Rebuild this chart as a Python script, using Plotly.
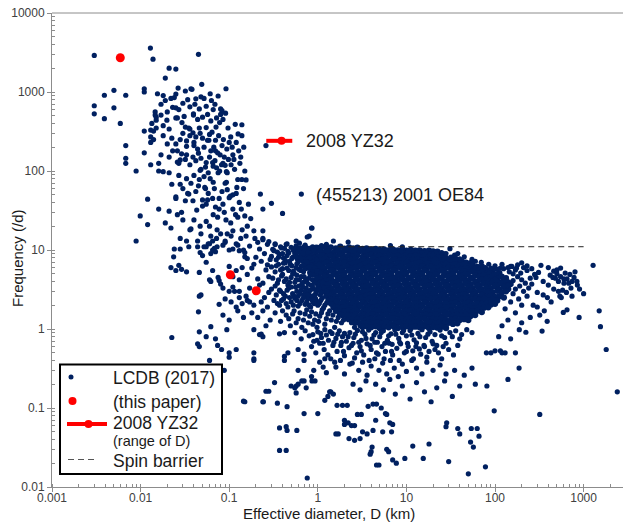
import math
import plotly.graph_objects as go

# ---------------------------------------------------------------------------
# LCDB (2017) asteroids: (effective diameter D [km], rotation frequency [1/d])
# ---------------------------------------------------------------------------

# Small, fast-rotating objects (mostly D < 0.2 km, above the spin barrier)
lcdb_fast_small = [
    (0.0030, 2900), (0.0030, 670), (0.0030, 530), (0.0039, 910), (0.0039, 460),
    (0.005, 1050), (0.005, 630), (0.0059, 400), (0.0068, 910), (0.0068, 210),
    (0.0068, 145), (0.0068, 125), (0.0089, 100), (0.011, 320), (0.011, 170),
    (0.011, 1100), (0.011, 1000), (0.012, 44), (0.0099, 27), (0.012, 21),
    (0.0089, 13), (0.0129, 3600), (0.0138, 2600), (0.021, 2000), (0.025, 1950),
    (0.019, 1500), (0.045, 3000), (0.049, 1250), (0.092, 1100),
    (0.0155, 950), (0.018, 900), (0.022, 830), (0.025, 940), (0.0265, 1120),
    (0.032, 1030), (0.037, 1100), (0.038, 1080), (0.042, 820), (0.046, 610),
    (0.052, 830), (0.061, 950), (0.063, 780), (0.075, 890), (0.019, 780),
    (0.023, 640), (0.025, 630), (0.030, 720), (0.0395, 530), (0.0395, 510),
    (0.055, 660), (0.08, 610), (0.083, 580), (0.08, 520), (0.091, 540),
    (0.0146, 510), (0.015, 480), (0.015, 440), (0.0134, 400), (0.0198, 440),
    (0.025, 470), (0.026, 470), (0.0293, 410), (0.018, 375), (0.021, 340),
    (0.032, 360), (0.036, 340), (0.035, 350), (0.046, 350), (0.055, 355),
    (0.071, 360), (0.097, 350), (0.117, 390), (0.139, 385), (0.126, 295),
    (0.139, 280), (0.047, 300), (0.039, 305), (0.013, 330), (0.014, 320),
    (0.015, 350), (0.0146, 560), (0.017, 510),
    (0.013, 270), (0.014, 250), (0.013, 230), (0.0225, 260), (0.025, 220),
    (0.033, 240), (0.04, 230), (0.04, 210), (0.033, 205), (0.026, 180),
    (0.029, 165), (0.033, 160), (0.039, 150), (0.045, 168), (0.057, 245),
    (0.059, 245), (0.07, 245), (0.067, 200), (0.083, 210), (0.07, 180),
    (0.074, 170), (0.1, 230), (0.11, 160), (0.088, 150), (0.026, 130),
    (0.028, 138), (0.027, 125), (0.013, 120), (0.016, 125), (0.018, 98),
    (0.021, 150), (0.016, 100), (0.055, 128), (0.065, 128), (0.066, 115),
    (0.082, 120), (0.085, 125), (0.09, 118), (0.105, 120), (0.048, 105),
    (0.047, 102), (0.058, 95), (0.075, 95), (0.095, 95), (0.093, 98),
    (0.021, 95), (0.0225, 68), (0.028, 68), (0.045, 65), (0.053, 62),
    (0.054, 60), (0.066, 72), (0.09, 70), (0.093, 72), (0.125, 78),
    (0.139, 78), (0.103, 48), (0.083, 55), (0.025, 47), (0.025, 45),
    (0.032, 42), (0.039, 42), (0.05, 43), (0.057, 43), (0.065, 45),
    (0.077, 45), (0.1, 46), (0.11, 50), (0.034, 52), (0.035, 51),
    (0.016, 33), (0.021, 31), (0.029, 30), (0.043, 32), (0.05, 36),
    (0.055, 38), (0.066, 28), (0.077, 33), (0.088, 30), (0.11, 33),
    (0.125, 26), (0.15, 27), (0.019, 22), (0.022, 19), (0.03, 24),
    (0.036, 18), (0.037, 18.5), (0.047, 20), (0.055, 23), (0.06, 20),
    (0.073, 18), (0.11, 17.5), (0.14, 18),
    (0.024, 10.3), (0.028, 10.3), (0.035, 11), (0.044, 13), (0.052, 11),
    (0.065, 13), (0.073, 11), (0.09, 13), (0.1, 10), (0.12, 12), (0.145, 10),
    (0.017, 700), (0.02, 560), (0.024, 850), (0.027, 600), (0.031, 490),
    (0.034, 800), (0.036, 650), (0.041, 700), (0.044, 450), (0.048, 870),
    (0.05, 480), (0.057, 520), (0.062, 430), (0.066, 600), (0.069, 700),
    (0.072, 470), (0.078, 410), (0.085, 450), (0.05, 260), (0.052, 200),
    (0.06, 290), (0.062, 180), (0.064, 310), (0.076, 280), (0.079, 160),
    (0.086, 250), (0.094, 190), (0.104, 270), (0.108, 200), (0.113, 140),
    (0.12, 230), (0.128, 180), (0.135, 150), (0.146, 200), (0.042, 270),
    (0.044, 190), (0.036, 280), (0.03, 300), (0.028, 250), (0.018, 280),
    (0.02, 220), (0.023, 180), (0.017, 160), (0.032, 140), (0.036, 120),
    (0.042, 135), (0.048, 145), (0.054, 112), (0.06, 150), (0.069, 135),
    (0.072, 110), (0.078, 100), (0.098, 140), (0.115, 105), (0.132, 125),
    (0.15, 100), (0.155, 77), (0.145, 60), (0.122, 62), (0.13, 40),
    (0.12, 52), (0.095, 58), (0.085, 38), (0.07, 35), (0.068, 60),
    (0.061, 80), (0.052, 85), (0.046, 78), (0.04, 88), (0.037, 70),
    (0.033, 80), (0.03, 60), (0.027, 88), (0.042, 55), (0.058, 52),
    (0.074, 26), (0.092, 24), (0.104, 22), (0.118, 28), (0.137, 33),
    (0.16, 20), (0.165, 38), (0.175, 25), (0.135, 14), (0.155, 15),
    (0.105, 15), (0.08, 16), (0.062, 15), (0.048, 16), (0.04, 24),
    (0.026, 28), (0.028, 14), (0.033, 13), (0.044, 11), (0.058, 12),
    (0.068, 10.5), (0.085, 11.5), (0.095, 16), (0.072, 14),
    (0.225, 51), (0.24, 33), (0.3, 39), (0.4, 29), (0.652, 51), (0.85, 19),
    (0.19, 17.5), (0.24, 17.5), (0.195, 14), (0.24, 14), (0.33, 12),
    (0.45, 12), (0.57, 13), (0.26, 210), (0.86, 19),
]

# Sub-km objects below the spin barrier
lcdb_small = [
    (0.31, 10.2), (0.35, 9.4), (0.38, 11.0), (0.42, 10.5), (0.46, 9.6),
    (0.5, 10.8), (0.53, 9.9), (0.57, 11.3), (0.6, 10.1), (0.64, 9.3),
    (0.68, 10.6), (0.72, 11.5), (0.75, 9.8), (0.79, 10.4), (0.83, 9.2),
    (0.87, 11.0), (0.9, 10.0), (0.44, 11.8), (0.62, 12.2), (0.76, 14.6),
    (0.33, 11.7), (0.96, 10.9), (1.1, 11.4), (1.25, 11.8), (0.55, 9.1),
    (0.7, 9.5),
    (0.3, 8.3), (0.34, 7.5), (0.37, 8.8), (0.41, 7.9), (0.45, 8.5),
    (0.48, 7.2), (0.52, 8.1), (0.56, 8.8), (0.59, 7.6), (0.63, 8.4),
    (0.67, 7.3), (0.71, 8.0), (0.74, 8.9), (0.78, 7.7), (0.82, 8.4),
    (0.86, 7.4), (0.92, 8.1), (0.97, 7.6), (0.4, 9.0),
    (0.3, 6.1), (0.33, 5.3), (0.36, 6.6), (0.4, 5.8), (0.43, 6.9),
    (0.47, 5.5), (0.51, 6.3), (0.54, 5.1), (0.58, 6.7), (0.61, 5.7),
    (0.65, 6.2), (0.69, 5.3), (0.73, 6.5), (0.77, 5.9), (0.81, 5.2),
    (0.85, 6.4), (0.88, 5.6), (0.93, 6.0), (0.98, 5.4), (1.03, 6.6),
    (1.08, 5.1),
    (0.31, 4.4), (0.35, 3.8), (0.39, 4.7), (0.42, 4.0), (0.46, 3.6),
    (0.5, 4.5), (0.55, 3.9), (0.58, 4.8), (0.62, 4.2), (0.66, 3.7),
    (0.7, 4.6), (0.75, 4.0), (0.8, 4.4), (0.84, 3.6), (0.89, 4.8),
    (0.94, 4.1), (0.99, 3.7), (1.05, 4.5), (1.13, 3.9), (1.2, 4.7),
    (0.3, 3.2), (0.34, 2.7), (0.38, 3.0), (0.43, 2.6), (0.47, 3.3),
    (0.52, 2.8), (0.56, 3.4), (0.6, 2.6), (0.65, 3.1), (0.7, 2.7),
    (0.74, 3.3), (0.79, 2.9), (0.84, 2.6), (0.9, 3.2), (0.95, 2.8),
    (1.0, 3.4), (1.07, 2.7), (1.15, 3.1), (1.23, 2.6), (1.35, 2.8),
    (1.45, 3.3),
    (0.32, 2.3), (0.37, 2.0), (0.41, 2.4), (0.46, 1.9), (0.5, 2.2),
    (0.55, 2.45), (0.6, 1.95), (0.66, 2.3), (0.72, 2.05), (0.77, 2.4),
    (0.83, 1.9), (0.88, 2.2), (0.94, 2.45), (1.0, 2.0), (1.08, 2.3),
    (1.16, 1.85), (1.26, 2.15), (1.38, 2.4), (1.5, 1.95), (1.62, 2.25),
    (0.33, 1.6), (0.38, 1.25), (0.44, 1.5), (0.49, 1.1), (0.54, 1.7),
    (0.6, 1.35), (0.66, 1.05), (0.72, 1.55), (0.78, 1.2), (0.85, 1.65),
    (0.92, 1.3), (0.98, 1.05), (1.05, 1.45), (1.12, 1.75), (1.2, 1.15),
    (1.3, 1.55), (1.42, 1.3), (1.55, 1.05), (1.7, 1.4), (1.85, 1.2),
    (2.1, 1.35), (2.4, 1.2), (2.6, 1.05), (3.0, 1.1), (1.8, 1.55),
    (0.32, 9.8), (0.36, 8.1), (0.39, 10.6), (0.43, 7.4), (0.47, 9.2),
    (0.51, 7.8), (0.54, 10.4), (0.58, 8.2), (0.61, 9.6), (0.65, 7.9),
    (0.69, 9.0), (0.73, 7.1), (0.77, 9.4), (0.81, 8.0), (0.34, 6.3),
    (0.38, 5.6), (0.41, 6.8), (0.45, 5.9), (0.49, 6.6), (0.53, 5.4),
    (0.57, 6.0), (0.6, 7.0), (0.64, 5.5), (0.68, 6.4), (0.72, 5.8),
    (0.76, 7.0), (0.8, 6.1), (0.36, 4.2), (0.4, 4.9), (0.44, 4.3),
    (0.48, 3.9), (0.52, 5.0), (0.57, 4.2), (0.61, 3.5), (0.65, 4.6),
    (0.69, 3.9), (0.73, 4.3), (0.78, 3.7), (0.82, 4.9), (0.87, 4.2),
    (0.92, 3.9), (0.97, 4.4), (0.33, 3.5), (0.37, 3.1), (0.41, 2.8),
    (0.45, 3.1), (0.5, 3.4), (0.54, 2.6), (0.58, 3.0), (0.63, 2.8),
    (0.68, 3.4), (0.72, 3.0), (0.77, 2.7), (0.82, 3.1), (0.87, 3.5),
    (0.92, 2.7), (0.97, 3.0), (1.03, 3.2), (1.1, 2.9), (1.18, 3.3),
    (1.26, 3.0), (0.35, 2.1), (0.39, 2.3), (0.44, 2.1), (0.48, 2.5),
    (0.53, 2.0), (0.58, 2.3), (0.63, 2.1), (0.69, 2.5), (0.75, 2.2),
    (0.8, 2.0), (0.86, 2.35), (0.91, 2.1), (0.97, 2.25), (1.04, 2.1),
    (1.12, 2.45), (1.2, 2.0), (1.3, 2.3), (1.42, 2.1), (0.4, 1.7),
    (0.47, 1.35), (0.52, 1.55), (0.57, 1.2), (0.63, 1.6), (0.69, 1.3),
    (0.75, 1.75), (0.81, 1.45), (0.88, 1.15), (0.95, 1.55), (1.02, 1.25),
    (1.1, 1.6), (1.25, 1.35), (1.36, 1.7), (1.48, 1.5), (1.62, 1.25),
    (1.75, 1.55), (1.95, 1.3), (2.2, 1.5),
    (0.15, 9.3), (0.17, 11.2), (0.2, 8.1), (0.22, 10.3), (0.25, 9.0),
    (0.27, 11.8), (0.19, 6.6), (0.23, 7.2), (0.26, 5.6), (0.16, 4.9),
    (0.18, 5.9), (0.21, 4.3), (0.24, 3.8), (0.28, 4.6), (0.17, 3.3),
    (0.2, 2.9), (0.22, 3.6), (0.25, 2.5), (0.28, 2.9), (0.16, 2.3),
    (0.19, 2.0), (0.23, 2.2), (0.27, 1.9), (0.18, 1.6), (0.21, 1.4),
    (0.24, 1.7), (0.29, 1.3), (0.26, 1.1), (0.19, 0.98), (0.23, 0.86),
    (0.28, 12.8), (0.24, 13.5), (0.29, 7.6), (0.27, 6.5), (0.16, 7.8),
    (0.21, 12.5),
    (0.0236, 8.2), (0.022, 6.0), (0.025, 5.5), (0.027, 6.4), (0.029, 5.7),
    (0.033, 5.3), (0.046, 5.2), (0.047, 9.3), (0.05, 8.5), (0.062, 9.0),
    (0.06, 4.2), (0.062, 4.0), (0.077, 4.1), (0.08, 3.7), (0.046, 2.6),
    (0.048, 2.7), (0.045, 1.65), (0.062, 1.07), (0.094, 0.98), (0.046, 0.92),
    (0.077, 2.05), (0.0225, 0.78), (0.044, 0.65), (0.046, 0.6), (0.06, 0.4),
    (0.074, 0.62), (0.1, 0.44), (0.1, 0.5), (0.12, 0.55), (0.1, 3.0),
    (0.11, 3.4), (0.115, 3.0), (0.13, 3.0), (0.12, 1.9), (0.125, 1.7),
    (0.145, 1.4), (0.088, 0.3),
    (0.055, 11), (0.06, 12), (0.065, 10), (0.07, 9.5), (0.09, 12.5),
    (0.11, 10.3), (0.13, 9.8), (0.125, 11.5), (0.15, 8.2), (0.055, 7),
    (0.065, 5.5), (0.075, 4.5), (0.1, 6.2), (0.12, 5.5), (0.14, 6.0),
    (0.11, 4.6), (0.13, 4.2), (0.085, 3.3), (0.09, 2.4), (0.105, 2.2),
    (0.13, 2.5), (0.14, 2.1), (0.155, 2.6), (0.17, 2.2), (0.085, 1.5),
    (0.1, 1.3), (0.07, 0.75), (0.055, 0.8), (0.082, 0.55),
]

# Main population, 1 - 150 km, 1 - 11 /d (densely packed)
lcdb_main = [
    (0.63, 10.5), (0.71, 10.9), (0.8, 10.3), (0.9, 10.6),
    (1.0, 10.6), (1.12, 10.9), (1.27, 10.4), (1.4, 10.8), (1.6, 10.5),
    (1.79, 11.0), (2.0, 10.4), (2.25, 10.8), (2.5, 10.5), (2.8, 10.7),
    (3.2, 10.3), (3.55, 10.5), (4.0, 10.1), (4.5, 10.3), (5.0, 10.0),
    (5.6, 10.2), (6.3, 9.9), (7.1, 10.1), (8.0, 9.9), (9.0, 10.1),
    (10, 9.8), (11.2, 10.0), (12.6, 9.8), (14.1, 9.9), (16, 9.7),
    (18, 9.8), (20, 9.6), (22.4, 9.5),
    (0.67, 9.6), (0.75, 9.3), (0.85, 9.7),
    (0.95, 9.4), (1.06, 9.7), (1.19, 9.3), (1.33, 9.6), (1.5, 9.2),
    (1.68, 9.7), (1.9, 9.4), (2.1, 9.8), (2.37, 9.3), (2.66, 9.5),
    (3.0, 9.7), (3.35, 9.2), (3.75, 9.6), (4.2, 9.4), (4.75, 9.6),
    (5.3, 9.3), (5.95, 9.5), (6.7, 9.2), (7.5, 9.4), (8.4, 9.3),
    (9.5, 9.1), (10.6, 9.3), (11.9, 9.0), (13.3, 9.2), (15, 8.9),
    (16.8, 9.1), (18.9, 8.8), (21.2, 9.0), (23.7, 8.7), (26.6, 8.8),
    (0.71, 8.4), (0.8, 8.6), (0.9, 8.2),
    (1.0, 8.3), (1.12, 8.6), (1.26, 8.2), (1.41, 8.5), (1.6, 8.3),
    (1.8, 8.7), (2.0, 8.2), (2.24, 8.5), (2.5, 8.3), (2.8, 8.6),
    (3.2, 8.2), (3.55, 8.4), (4.0, 8.7), (4.5, 8.3), (5.0, 8.5),
    (5.6, 8.2), (6.3, 8.6), (7.1, 8.3), (8.0, 8.5), (9.0, 8.2),
    (10, 8.6), (11.2, 8.3), (12.6, 8.5), (14.1, 8.2), (16, 8.4),
    (18, 8.1), (20, 8.4), (22.4, 8.0), (25, 8.2), (28, 7.9),
    (32, 8.0), (35.5, 7.8),
    (0.75, 7.5), (0.85, 7.7), (0.95, 7.3),
    (1.06, 7.4), (1.19, 7.7), (1.33, 7.3), (1.5, 7.6), (1.68, 7.4),
    (1.9, 7.7), (2.1, 7.3), (2.37, 7.5), (2.66, 7.7), (3.0, 7.3),
    (3.35, 7.6), (3.75, 7.4), (4.2, 7.7), (4.75, 7.3), (5.3, 7.5),
    (5.95, 7.7), (6.7, 7.3), (7.5, 7.6), (8.4, 7.4), (9.5, 7.7),
    (10.6, 7.3), (11.9, 7.5), (13.3, 7.6), (15, 7.3), (16.8, 7.5),
    (18.9, 7.2), (21.2, 7.5), (23.7, 7.3), (26.6, 7.4), (29.9, 7.1),
    (33.5, 7.3), (37.6, 7.0), (42, 7.2), (47, 6.9), (53, 6.8),
    (0.8, 6.8), (0.9, 6.6), (1.0, 6.9),
    (1.12, 6.6), (1.26, 6.9), (1.41, 6.5), (1.6, 6.8), (1.8, 6.6),
    (2.0, 6.9), (2.24, 6.5), (2.5, 6.7), (2.8, 6.9), (3.2, 6.5),
    (3.55, 6.8), (4.0, 6.6), (4.5, 6.9), (5.0, 6.5), (5.6, 6.7),
    (6.3, 6.9), (7.1, 6.5), (8.0, 6.8), (9.0, 6.6), (10, 6.9),
    (11.2, 6.5), (12.6, 6.7), (14.1, 6.9), (16, 6.5), (18, 6.8),
    (20, 6.6), (22.4, 6.8), (25, 6.5), (28, 6.7), (32, 6.4),
    (35.5, 6.6), (40, 6.3), (45, 6.5), (50, 6.2), (56, 6.4),
    (63, 6.1), (71, 6.2),
    (0.85, 6.0), (0.95, 6.2), (1.06, 5.9),
    (1.19, 5.9), (1.33, 6.2), (1.5, 5.8), (1.68, 6.1), (1.9, 5.9),
    (2.1, 6.2), (2.37, 5.8), (2.66, 6.0), (3.0, 6.2), (3.35, 5.8),
    (3.75, 6.1), (4.2, 5.9), (4.75, 6.2), (5.3, 5.8), (5.95, 6.0),
    (6.7, 6.2), (7.5, 5.8), (8.4, 6.1), (9.5, 5.9), (10.6, 6.2),
    (11.9, 5.8), (13.3, 6.0), (15, 6.2), (16.8, 5.8), (18.9, 6.1),
    (21.2, 5.9), (23.7, 6.1), (26.6, 5.8), (29.9, 6.0), (33.5, 5.8),
    (37.6, 6.0), (42, 5.7), (47, 5.9), (53, 5.6), (59.7, 5.8),
    (67, 5.5), (75, 5.7), (84, 5.5), (94, 5.6),
    (0.9, 5.3), (1.0, 5.4), (1.12, 5.2),
    (1.26, 5.2), (1.41, 5.5), (1.6, 5.1), (1.8, 5.4), (2.0, 5.2),
    (2.24, 5.5), (2.5, 5.1), (2.8, 5.3), (3.2, 5.5), (3.55, 5.1),
    (4.0, 5.4), (4.5, 5.2), (5.0, 5.5), (5.6, 5.1), (6.3, 5.3),
    (7.1, 5.5), (8.0, 5.1), (9.0, 5.4), (10, 5.2), (11.2, 5.5),
    (12.6, 5.1), (14.1, 5.3), (16, 5.5), (18, 5.1), (20, 5.4),
    (22.4, 5.2), (25, 5.5), (28, 5.1), (32, 5.3), (35.5, 5.5),
    (40, 5.1), (45, 5.4), (50, 5.2), (56, 5.4), (63, 5.1),
    (71, 5.3), (80, 5.0), (90, 5.2), (100, 4.9), (112, 5.1),
    (1.0, 4.7), (1.19, 4.8),
    (1.33, 4.6), (1.5, 4.9), (1.68, 4.6), (1.9, 4.8), (2.1, 4.5),
    (2.37, 4.8), (2.66, 4.6), (3.0, 4.9), (3.35, 4.5), (3.75, 4.7),
    (4.2, 4.9), (4.75, 4.5), (5.3, 4.8), (5.95, 4.6), (6.7, 4.9),
    (7.5, 4.5), (8.4, 4.7), (9.5, 4.9), (10.6, 4.5), (11.9, 4.8),
    (13.3, 4.6), (15, 4.9), (16.8, 4.5), (18.9, 4.7), (21.2, 4.9),
    (23.7, 4.5), (26.6, 4.8), (29.9, 4.6), (33.5, 4.9), (37.6, 4.5),
    (42, 4.7), (47, 4.9), (53, 4.5), (59.7, 4.8), (67, 4.6),
    (75, 4.8), (84, 4.5), (94, 4.7), (106, 4.4), (119, 4.6), (133, 4.4),
    (1.0, 4.2), (1.12, 4.3),
    (1.26, 4.1), (1.41, 4.3), (1.6, 4.0), (1.8, 4.3), (2.0, 4.1),
    (2.24, 4.4), (2.5, 4.0), (2.8, 4.2), (3.2, 4.4), (3.55, 4.0),
    (4.0, 4.3), (4.5, 4.1), (5.0, 4.4), (5.6, 4.0), (6.3, 4.2),
    (7.1, 4.4), (8.0, 4.0), (9.0, 4.3), (10, 4.1), (11.2, 4.4),
    (12.6, 4.0), (14.1, 4.2), (16, 4.4), (18, 4.0), (20, 4.3),
    (22.4, 4.1), (25, 4.4), (28, 4.0), (32, 4.2), (35.5, 4.4),
    (40, 4.0), (45, 4.3), (50, 4.1), (56, 4.4), (63, 4.0),
    (71, 4.2), (80, 4.3), (90, 4.0), (100, 4.2), (112, 3.9),
    (126, 4.1), (141, 3.9),
    (1.06, 3.8), (1.19, 3.7),
    (1.33, 3.7), (1.5, 3.9), (1.68, 3.6), (1.9, 3.8), (2.1, 3.7),
    (2.37, 3.9), (2.66, 3.6), (3.0, 3.8), (3.35, 3.9), (3.75, 3.6),
    (4.2, 3.8), (4.75, 3.7), (5.3, 3.9), (5.95, 3.6), (6.7, 3.8),
    (7.5, 3.9), (8.4, 3.6), (9.5, 3.8), (10.6, 3.7), (11.9, 3.9),
    (13.3, 3.6), (15, 3.8), (16.8, 3.9), (18.9, 3.6), (21.2, 3.8),
    (23.7, 3.7), (26.6, 3.9), (29.9, 3.6), (33.5, 3.8), (37.6, 3.9),
    (42, 3.6), (47, 3.8), (53, 3.7), (59.7, 3.9), (67, 3.6),
    (75, 3.8), (84, 3.7), (94, 3.9), (106, 3.6), (119, 3.8),
    (133, 3.6), (150, 3.7),
    (1.12, 3.4), (1.26, 3.3),
    (1.41, 3.3), (1.6, 3.5), (1.8, 3.2), (2.0, 3.4), (2.24, 3.3),
    (2.5, 3.5), (2.8, 3.2), (3.2, 3.4), (3.55, 3.5), (4.0, 3.2),
    (4.5, 3.4), (5.0, 3.3), (5.6, 3.5), (6.3, 3.2), (7.1, 3.4),
    (8.0, 3.5), (9.0, 3.2), (10, 3.4), (11.2, 3.3), (12.6, 3.5),
    (14.1, 3.2), (16, 3.4), (18, 3.5), (20, 3.2), (22.4, 3.4),
    (25, 3.3), (28, 3.5), (32, 3.2), (35.5, 3.4), (40, 3.5),
    (45, 3.2), (50, 3.4), (56, 3.3), (63, 3.5), (71, 3.2),
    (80, 3.4), (90, 3.3), (100, 3.5), (112, 3.2), (126, 3.4), (141, 3.2),
    (1.19, 3.0), (1.33, 3.05),
    (1.5, 2.95), (1.68, 3.1), (1.9, 2.9), (2.1, 3.05), (2.37, 2.95),
    (2.66, 3.1), (3.0, 2.9), (3.35, 3.0), (3.75, 3.1), (4.2, 2.9),
    (4.75, 3.05), (5.3, 2.95), (5.95, 3.1), (6.7, 2.9), (7.5, 3.0),
    (8.4, 3.1), (9.5, 2.9), (10.6, 3.05), (11.9, 2.95), (13.3, 3.1),
    (15, 2.9), (16.8, 3.0), (18.9, 3.1), (21.2, 2.9), (23.7, 3.05),
    (26.6, 2.95), (29.9, 3.1), (33.5, 2.9), (37.6, 3.0), (42, 3.1),
    (47, 2.9), (53, 3.05), (59.7, 2.95), (67, 3.1), (75, 2.9),
    (84, 3.0), (94, 2.9), (106, 3.05), (119, 2.9), (133, 3.0),
    (1.26, 2.65), (1.41, 2.7),
    (1.6, 2.6), (1.8, 2.75), (2.0, 2.55), (2.24, 2.7), (2.5, 2.6),
    (2.8, 2.75), (3.2, 2.55), (3.55, 2.65), (4.0, 2.75), (4.5, 2.55),
    (5.0, 2.7), (5.6, 2.6), (6.3, 2.75), (7.1, 2.55), (8.0, 2.65),
    (9.0, 2.75), (10, 2.55), (11.2, 2.7), (12.6, 2.6), (14.1, 2.75),
    (16, 2.55), (18, 2.65), (20, 2.75), (22.4, 2.55), (25, 2.7),
    (28, 2.6), (32, 2.75), (35.5, 2.55), (40, 2.65), (45, 2.75),
    (50, 2.55), (56, 2.7), (63, 2.6), (71, 2.7), (80, 2.55),
    (90, 2.65), (100, 2.55), (112, 2.6), (126, 2.5),
    (1.33, 2.4), (1.5, 2.35),
    (1.68, 2.35), (1.9, 2.45), (2.1, 2.3), (2.37, 2.4), (2.66, 2.35),
    (3.0, 2.45), (3.35, 2.3), (3.75, 2.4), (4.2, 2.45), (4.75, 2.3),
    (5.3, 2.4), (5.95, 2.35), (6.7, 2.45), (7.5, 2.3), (8.4, 2.4),
    (9.5, 2.45), (10.6, 2.3), (11.9, 2.4), (13.3, 2.35), (15, 2.45),
    (16.8, 2.3), (18.9, 2.4), (21.2, 2.45), (23.7, 2.3), (26.6, 2.4),
    (29.9, 2.35), (33.5, 2.45), (37.6, 2.3), (42, 2.4), (47, 2.45),
    (53, 2.3), (59.7, 2.4), (67, 2.35), (75, 2.4), (84, 2.3),
    (94, 2.35), (106, 2.3),
    (1.41, 2.1), (1.6, 2.12),
    (1.8, 2.08), (2.0, 2.15), (2.24, 2.05), (2.5, 2.12), (2.8, 2.08),
    (3.2, 2.16), (3.55, 2.04), (4.0, 2.1), (4.5, 2.15), (5.0, 2.04),
    (5.6, 2.12), (6.3, 2.08), (7.1, 2.16), (8.0, 2.04), (9.0, 2.1),
    (10, 2.15), (11.2, 2.04), (12.6, 2.12), (14.1, 2.08), (16, 2.16),
    (18, 2.04), (20, 2.1), (22.4, 2.15), (25, 2.04), (28, 2.12),
    (32, 2.08), (35.5, 2.16), (40, 2.04), (45, 2.1), (50, 2.15),
    (56, 2.04), (63, 2.12), (71, 2.08), (80, 2.1), (90, 2.04), (100, 2.08),
    (1.5, 1.9), (1.68, 1.88),
    (1.9, 1.86), (2.1, 1.93), (2.37, 1.84), (2.66, 1.9), (3.0, 1.95),
    (3.35, 1.84), (3.75, 1.9), (4.2, 1.86), (4.75, 1.94), (5.3, 1.84),
    (5.95, 1.9), (6.7, 1.95), (7.5, 1.84), (8.4, 1.9), (9.5, 1.86),
    (10.6, 1.94), (11.9, 1.84), (13.3, 1.9), (15, 1.95), (16.8, 1.84),
    (18.9, 1.9), (21.2, 1.86), (23.7, 1.94), (26.6, 1.84), (29.9, 1.9),
    (33.5, 1.95), (37.6, 1.84), (42, 1.9), (47, 1.86), (53, 1.93),
    (59.7, 1.84), (67, 1.9), (75, 1.86), (84, 1.88),
    (1.6, 1.7), (1.8, 1.67),
    (2.0, 1.66), (2.24, 1.72), (2.5, 1.64), (2.8, 1.7), (3.2, 1.66),
    (3.55, 1.73), (4.0, 1.64), (4.5, 1.69), (5.0, 1.72), (5.6, 1.64),
    (6.3, 1.7), (7.1, 1.66), (8.0, 1.73), (9.0, 1.64), (10, 1.69),
    (11.2, 1.72), (12.6, 1.64), (14.1, 1.7), (16, 1.66), (18, 1.73),
    (20, 1.64), (22.4, 1.69), (25, 1.72), (28, 1.64), (32, 1.7),
    (35.5, 1.66), (40, 1.72), (45, 1.64), (50, 1.69), (56, 1.66),
    (63, 1.7), (71, 1.64),
    (1.9, 1.5), (2.1, 1.52),
    (2.37, 1.48), (2.66, 1.53), (3.0, 1.46), (3.35, 1.51), (3.75, 1.48),
    (4.2, 1.54), (4.75, 1.46), (5.3, 1.5), (5.95, 1.53), (6.7, 1.46),
    (7.5, 1.51), (8.4, 1.48), (9.5, 1.54), (10.6, 1.46), (11.9, 1.5),
    (13.3, 1.53), (15, 1.46), (16.8, 1.51), (18.9, 1.48), (21.2, 1.54),
    (23.7, 1.46), (26.6, 1.5), (29.9, 1.53), (33.5, 1.46), (37.6, 1.51),
    (42, 1.48), (47, 1.52), (53, 1.46), (59.7, 1.5),
    (2.24, 1.33), (2.5, 1.35),
    (2.8, 1.32), (3.2, 1.36), (3.55, 1.3), (4.0, 1.34), (4.5, 1.31),
    (5.0, 1.36), (5.6, 1.3), (6.3, 1.33), (7.1, 1.36), (8.0, 1.3),
    (9.0, 1.34), (10, 1.31), (11.2, 1.36), (12.6, 1.3), (14.1, 1.33),
    (16, 1.36), (18, 1.3), (20, 1.34), (22.4, 1.31), (25, 1.36),
    (28, 1.3), (32, 1.33), (35.5, 1.35), (40, 1.3), (45, 1.33), (50, 1.3),
    (2.66, 1.2), (3.0, 1.18),
    (3.35, 1.18), (3.75, 1.21), (4.2, 1.16), (4.75, 1.2), (5.3, 1.17),
    (5.95, 1.22), (6.7, 1.16), (7.5, 1.19), (8.4, 1.21), (9.5, 1.16),
    (10.6, 1.2), (11.9, 1.17), (13.3, 1.22), (15, 1.16), (16.8, 1.19),
    (18.9, 1.21), (21.2, 1.16), (23.7, 1.2), (26.6, 1.17), (29.9, 1.2),
    (33.5, 1.16), (37.6, 1.18),
    (3.2, 1.06), (3.55, 1.08),
    (4.0, 1.05), (4.5, 1.08), (5.0, 1.03), (5.6, 1.07), (6.3, 1.05),
    (7.1, 1.09), (8.0, 1.03), (9.0, 1.06), (10, 1.08), (11.2, 1.03),
    (12.6, 1.07), (14.1, 1.05), (16, 1.08), (18, 1.03), (20, 1.06),
    (22.4, 1.04), (25, 1.07), (28, 1.03),
]

# Scattered objects along the upper edge of the main population
lcdb_edge = [
    (0.8, 15), (1.5, 13), (2.2, 12.6), (6.6, 11.4), (9.0, 11.0),
    (25, 9.3), (28, 9.0), (31, 10.4), (35, 8.6), (38, 9.0),
    (45, 8.2), (40, 7.7), (55, 7.6), (60, 7.2), (70, 7.0), (85, 6.6),
    (100, 6.3), (120, 6.6), (150, 6.2), (180, 6.5), (200, 6.9),
    (78, 6.0), (90, 5.9), (105, 5.7), (115, 5.9),
]

# Slow rotators (below about 1 /d)
lcdb_slow = [
    (0.55, 0.9), (0.65, 0.75), (0.72, 0.95), (0.8, 0.82), (0.9, 0.7),
    (1.0, 0.92), (1.1, 0.78), (1.2, 0.98), (1.32, 0.72), (1.45, 0.88),
    (1.6, 0.76), (1.75, 0.95), (1.9, 0.8), (2.1, 0.7), (2.3, 0.9),
    (2.55, 0.78), (2.8, 0.96), (3.1, 0.72), (3.4, 0.86), (3.75, 0.97),
    (4.1, 0.75), (4.5, 0.9), (5.0, 0.8), (5.5, 0.95), (6.1, 0.72),
    (6.7, 0.87), (7.4, 0.98), (8.2, 0.76), (9.0, 0.9), (10, 0.82),
    (11, 0.96), (12.2, 0.73), (13.5, 0.88), (15, 0.98), (16.5, 0.78),
    (18.5, 0.92), (21, 0.85), (24, 0.97), (27, 0.78), (31, 0.9),
    (36, 0.95), (42, 0.85), (48, 0.98), (40, 0.75), (55, 0.9),
    (0.88, 0.85), (0.98, 0.72), (1.08, 0.88), (1.15, 0.66), (1.25, 0.84),
    (1.38, 0.93), (1.52, 0.68), (1.68, 0.86), (1.82, 0.62), (2.0, 0.88),
    (2.2, 0.8), (2.4, 0.62), (2.65, 0.86), (2.9, 0.68), (3.2, 0.92),
    (3.5, 0.76), (3.9, 0.62), (4.3, 0.84), (4.7, 0.68), (5.2, 0.9),
    (5.7, 0.66), (6.3, 0.82), (6.9, 0.64), (7.6, 0.86), (8.4, 0.68),
    (9.3, 0.96), (10.3, 0.66), (11.5, 0.84), (12.8, 0.6), (14.2, 0.8),
    (15.8, 0.62), (17.5, 0.86), (19.5, 0.7), (22, 0.62), (25, 0.82),
    (28, 0.66), (33, 0.8), (38, 0.62), (1.2, 0.42), (1.55, 0.38),
    (1.95, 0.52), (2.45, 0.37), (3.1, 0.53), (3.8, 0.4), (4.6, 0.5),
    (5.6, 0.42), (6.8, 0.52), (8.3, 0.4), (10, 0.52), (12, 0.42),
    (14, 0.56), (17, 0.44), (21, 0.55), (25, 0.42),
    (0.6, 0.55), (0.7, 0.48), (0.85, 0.6), (0.95, 0.5), (1.05, 0.66),
    (1.18, 0.55), (1.3, 0.47), (1.48, 0.62), (1.65, 0.52), (1.85, 0.68),
    (2.0, 0.46), (2.25, 0.58), (2.5, 0.66), (2.75, 0.5), (3.0, 0.6),
    (3.3, 0.47), (3.6, 0.65), (4.0, 0.55), (4.4, 0.68), (4.8, 0.48),
    (5.3, 0.6), (5.8, 0.52), (6.4, 0.66), (7.0, 0.47), (7.8, 0.57),
    (8.6, 0.65), (9.5, 0.5), (10.5, 0.6), (11.8, 0.53), (13, 0.67),
    (14.5, 0.48), (16, 0.6), (18, 0.52), (20, 0.65), (23, 0.5),
    (26, 0.6), (30, 0.55), (34, 0.47),
    (0.7, 0.4), (0.9, 0.3), (1.05, 0.38), (1.25, 0.28), (1.4, 0.42),
    (1.6, 0.33), (1.8, 0.4), (2.0, 0.27), (2.3, 0.36), (2.6, 0.43),
    (2.9, 0.3), (3.2, 0.38), (3.6, 0.26), (4.0, 0.34), (4.4, 0.42),
    (4.9, 0.3), (5.4, 0.37), (6.0, 0.27), (6.6, 0.4), (7.3, 0.32),
    (8.1, 0.25), (9.0, 0.36), (10, 0.29), (11.5, 0.4), (13, 0.32),
    (15, 0.27), (17, 0.38), (20, 0.3), (24, 0.35), (28, 0.27),
    (0.6, 0.3), (0.85, 0.25), (1.15, 0.33), (35, 0.3), (45, 0.26),
    (55, 0.32),
    (0.57, 0.19), (0.57, 0.155), (0.74, 0.18), (0.86, 0.22), (0.93, 0.22),
    (1.2, 0.125), (1.3, 0.14), (1.4, 0.16), (1.65, 0.108), (1.9, 0.108),
    (2.15, 0.108), (0.24, 0.12), (0.26, 0.163), (0.28, 0.163), (0.325, 0.21),
    (0.35, 0.115), (0.45, 0.104), (0.145, 0.122), (0.243, 0.12), (3.7, 0.105),
    (4.2, 0.112), (4.6, 0.112), (5.2, 0.1), (1.36, 0.16), (1.5, 0.15),
    (2.5, 0.2), (3.0, 0.17), (3.5, 0.22), (4.5, 0.2), (5.5, 0.17),
    (6.5, 0.23), (7.5, 0.15), (9, 0.19), (11, 0.13), (13, 0.21),
    (16, 0.16), (19, 0.12), (22, 0.18), (27, 0.22), (33, 0.14),
    (40, 0.19), (60, 0.2), (81, 0.19),
    (1.0, 0.085), (2.0, 0.062), (2.2, 0.065), (2.4, 0.06), (2.6, 0.06),
    (1.6, 0.047), (1.7, 0.047), (2.25, 0.041), (2.6, 0.039), (3.0, 0.041),
    (3.2, 0.05), (3.6, 0.047), (4.2, 0.052), (4.0, 0.028), (4.1, 0.032),
    (3.9, 0.026), (4.6, 0.019), (4.9, 0.019), (6.0, 0.03), (6.3, 0.028),
    (7.0, 0.022), (7.7, 0.02), (9.6, 0.023), (11.8, 0.033), (15.5, 0.023),
    (18, 0.035), (30, 0.021), (28, 0.058), (28.5, 0.065), (38, 0.055),
    (40, 0.047), (50, 0.0147), (53, 0.037), (57, 0.032), (54, 0.055),
    (63, 0.055), (66, 0.044), (78, 0.018), (98, 0.092),
    (0.44, 0.058), (0.58, 0.052), (0.44, 0.029), (0.37, 0.056), (0.45, 0.052),
    (0.37, 0.029), (0.76, 0.013), (0.5, 0.19), (0.55, 0.18), (0.6, 0.2),
    (0.66, 0.22), (0.7, 0.22), (0.7, 0.085), (4.5, 0.07), (2.8, 0.083),
    (3.1, 0.083), (5.4, 0.05), (6.8, 0.05), (5.8, 0.085), (6.0, 0.083),
    (6.5, 0.065), (7.0, 0.062), (2.0, 0.07), (0.42, 0.45), (0.42, 0.4),
    (0.46, 0.5), (0.37, 0.87), (0.42, 0.9), (0.22, 0.85), (0.24, 0.8),
    (0.19, 0.5), (0.19, 0.42), (0.19, 0.4), (0.15, 0.12),
]

# Large bodies (D > 100 km)
lcdb_large = [
    (1280, 6.4), (450, 4.5), (480, 4.4), (520, 4.0), (600, 4.3),
    (650, 4.3), (740, 4.0), (840, 4.0), (1000, 2.8), (520, 3.0),
    (580, 3.1), (540, 2.6), (560, 2.5), (740, 2.6), (600, 3.8),
    (680, 3.8), (330, 6.4), (140, 6.0), (155, 6.2), (175, 5.9),
    (210, 6.0), (230, 5.5), (290, 4.5), (300, 2.9), (350, 2.7),
    (390, 2.5), (270, 2.0), (300, 1.9), (188, 0.98), (100, 0.53),
    (115, 0.53), (80, 0.5), (90, 0.5), (120, 0.5), (130, 0.5),
    (170, 0.5), (140, 0.23), (187, 0.32), (223, 0.91), (340, 0.94),
    (388, 1.25), (590, 1.62), (650, 1.75), (890, 1.4), (1500, 1.7),
    (1550, 1.07), (1800, 0.55), (2400, 0.16), (320, 0.083),
    (160, 5.0), (180, 4.6), (200, 4.2), (220, 3.8), (250, 4.4),
    (190, 3.5), (170, 3.2), (210, 3.0), (240, 3.3), (160, 2.8),
    (185, 2.4), (150, 2.2), (130, 1.8), (170, 1.6), (200, 2.0),
    (230, 2.6), (260, 3.7), (280, 4.9), (310, 5.2), (350, 4.0),
    (400, 3.6), (420, 4.8), (460, 5.4), (500, 5.0), (550, 4.6),
    (620, 5.1), (700, 4.9), (780, 4.5), (850, 3.6), (900, 3.2),
    (720, 3.3), (640, 2.9), (460, 3.2), (430, 2.2), (360, 1.7),
    (320, 1.5), (250, 1.4), (140, 1.3), (120, 1.1), (110, 0.8),
    (150, 0.75), (200, 1.2), (140, 3.6), (160, 4.1), (125, 5.8),
    (145, 5.3), (170, 5.6), (195, 5.1), (260, 5.8), (230, 6.3),
    (400, 6.0), (500, 5.6), (550, 5.9), (800, 5.3),
]

# Objects from this paper
this_paper_d = [0.0059, 0.103, 0.202]
this_paper_f = [2710, 4.86, 3.05]

# 2008 YZ32: frequency and range of effective diameter
yz32_d_range = [0.262, 0.515]
yz32_d = 0.39
yz32_f = 241

# Spin barrier (~2.2 h)
barrier_d = [1.7, 1000]
barrier_f = 11.0

# Axis ticks
x_ticks = [0.001, 0.01, 0.1, 1, 10, 100, 1000]
x_tick_text = ["0.001", "0.01", "0.1", "1", "10", "100", "1000"]
y_ticks = [0.01, 0.1, 1, 10, 100, 1000, 10000]
y_tick_text = ["0.01", "0.1", "1", "10", "100", "1000", "10000"]

# ---------------------------------------------------------------------------
NAVY = "#002060"
RED = "#ff0000"
AXIS = "#8c8c8c"
FONT = "Liberation Sans, Arial, sans-serif"

W, H = 623, 522
ML, MR, MT, MB = 52, 0, 13, 35
PW, PH = W - ML - MR, H - MT - MB
X_DECADE_PX = 88.6


def px(x):
    return (x - ML) / PW


def py(y):
    return (H - MB - y) / PH


def minor_vals(lo, hi):
    vals = []
    for e in range(lo, hi + 1):
        for k in range(1, 10):
            vals.append(k * 10.0 ** e)
    return vals


sparse_pts = lcdb_fast_small + lcdb_small + lcdb_edge + lcdb_slow + lcdb_large

fig = go.Figure()

# dense main population (slightly larger dots so the packed cloud reads as solid)
fig.add_trace(go.Scatter(
    x=[p[0] for p in lcdb_main], y=[p[1] for p in lcdb_main], mode="markers",
    marker=dict(color=NAVY, size=6.3, line=dict(width=0)),
    hoverinfo="skip", showlegend=False,
))
fig.add_trace(go.Scatter(
    x=[p[0] for p in sparse_pts], y=[p[1] for p in sparse_pts], mode="markers",
    marker=dict(color=NAVY, size=5.2, line=dict(width=0)),
    hoverinfo="skip", showlegend=False,
))

fig.add_trace(go.Scatter(
    x=barrier_d, y=[barrier_f, barrier_f], mode="lines",
    line=dict(color="#222222", width=1, dash="6px,4px"),
    hoverinfo="skip", showlegend=False,
))

fig.add_trace(go.Scatter(
    x=yz32_d_range, y=[yz32_f, yz32_f], mode="lines",
    line=dict(color=RED, width=4),
    hoverinfo="skip", showlegend=False,
))
fig.add_trace(go.Scatter(
    x=[yz32_d], y=[yz32_f], mode="markers",
    marker=dict(color=RED, size=8),
    hoverinfo="skip", showlegend=False,
))

fig.add_trace(go.Scatter(
    x=this_paper_d, y=this_paper_f, mode="markers",
    marker=dict(color=RED, size=9, line=dict(width=0)),
    hoverinfo="skip", showlegend=False,
))

axis_common = dict(
    type="log", showgrid=False, zeroline=False,
    showline=True, linecolor=AXIS, linewidth=1,
    ticks="outside", ticklen=4, tickcolor=AXIS, tickwidth=1,
    tickfont=dict(family=FONT, size=12, color="#404040"),
)

fig.update_xaxes(
    **axis_common,
    range=[-3, -3 + PW / X_DECADE_PX],
    tickmode="array", tickvals=x_ticks, ticktext=x_tick_text,
    ticklabelstandoff=-4,
    minor=dict(tickmode="array", tickvals=minor_vals(-3, 3),
               ticks="inside", ticklen=3, tickcolor=AXIS, showgrid=False),
)
fig.update_yaxes(
    **axis_common,
    range=[-2, 4],
    tickmode="array", tickvals=y_ticks, ticktext=y_tick_text,
    minor=dict(tickmode="array", tickvals=minor_vals(-2, 3),
               ticks="inside", ticklen=3, tickcolor=AXIS, showgrid=False),
)

shapes = [
    # top frame line
    dict(type="line", xref="paper", yref="paper", x0=0, x1=1, y0=1, y1=1,
         line=dict(color=AXIS, width=1)),
    # legend box
    dict(type="rect", xref="paper", yref="paper",
         x0=px(60), x1=px(222), y0=py(474), y1=py(364.5),
         line=dict(color="black", width=2), fillcolor="white", layer="above"),
]

# legend symbols
shapes.append(dict(type="circle", xref="paper", yref="paper",
                   x0=px(71 - 2.5), x1=px(71 + 2.5), y0=py(377 + 2.5), y1=py(377 - 2.5),
                   fillcolor=NAVY, line=dict(width=0), layer="above"))
shapes.append(dict(type="circle", xref="paper", yref="paper",
                   x0=px(72.5 - 4), x1=px(72.5 + 4), y0=py(401 + 4), y1=py(401 - 4),
                   fillcolor=RED, line=dict(width=0), layer="above"))
shapes.append(dict(type="line", xref="paper", yref="paper",
                   x0=px(67), x1=px(107), y0=py(424), y1=py(424),
                   line=dict(color=RED, width=4), layer="above"))
shapes.append(dict(type="circle", xref="paper", yref="paper",
                   x0=px(88.5 - 4), x1=px(88.5 + 4), y0=py(424 + 4), y1=py(424 - 4),
                   fillcolor=RED, line=dict(width=0), layer="above"))
shapes.append(dict(type="line", xref="paper", yref="paper",
                   x0=px(68), x1=px(96), y0=py(459.5), y1=py(459.5),
                   line=dict(color="#555555", width=1, dash="6px,4px"), layer="above"))

annotations = [
    dict(text="2008 YZ32", x=math.log10(0.69), y=math.log10(yz32_f),
         xref="x", yref="y", xanchor="left", yanchor="middle", showarrow=False,
         font=dict(family=FONT, size=18, color="#1a1a1a")),
    dict(text="(455213) 2001 OE84", x=math.log10(0.91), y=math.log10(50),
         xref="x", yref="y", xanchor="left", yanchor="middle", showarrow=False,
         font=dict(family=FONT, size=18, color="#1a1a1a")),
    dict(text="Effective diameter, D (km)", x=px(329), y=py(513),
         xref="paper", yref="paper", xanchor="center", yanchor="middle",
         showarrow=False, font=dict(family=FONT, size=15, color="#1a1a1a")),
    dict(text="Frequency (/d)", x=px(17), y=py(258), textangle=-90,
         xref="paper", yref="paper", xanchor="center", yanchor="middle",
         showarrow=False, font=dict(family=FONT, size=15, color="#1a1a1a")),
]

legend_rows = [
    ("LCDB (2017)", 378, 17.5),
    ("(this paper)", 401.5, 17.5),
    ("2008 YZ32", 423, 17.5),
    ("(range of D)", 440.5, 14.5),
    ("Spin barrier", 460.5, 17.5),
]
for label, yy, size in legend_rows:
    annotations.append(dict(
        text=label, x=px(111), y=py(yy), xref="paper", yref="paper",
        xanchor="left", yanchor="middle", showarrow=False,
        font=dict(family=FONT, size=size, color="#1a1a1a"),
    ))

fig.update_layout(
    width=W, height=H,
    margin=dict(l=ML, r=MR, t=MT, b=MB, pad=0),
    paper_bgcolor="white", plot_bgcolor="white",
    showlegend=False,
    shapes=shapes, annotations=annotations,
)

fig.write_html("out.html", include_plotlyjs=True, config={"displayModeBar": False})
